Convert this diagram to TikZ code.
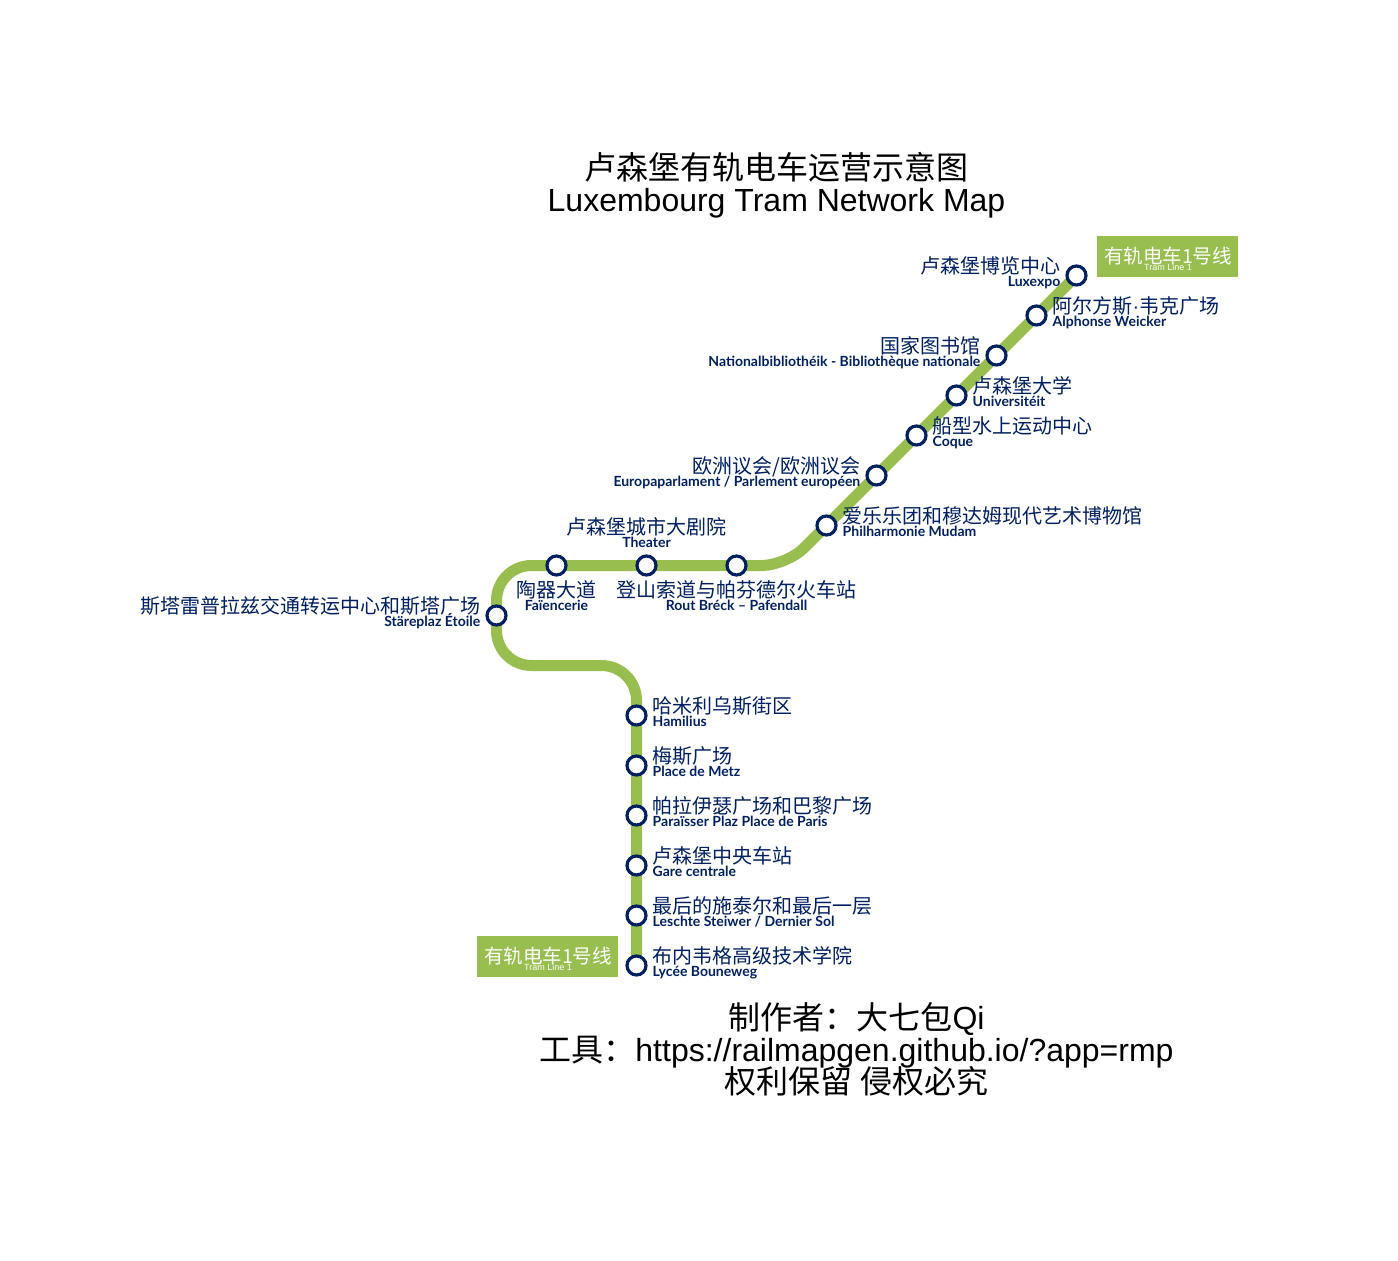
\documentclass[tikz,border=0pt]{standalone}
\usepackage{fontspec}
\setmainfont{Liberation Sans}
\newfontfamily\cjk{Noto Sans CJK SC}
\newfontfamily\lat{Lato}[BoldFont={Lato Bold}]
\definecolor{tramgreen}{HTML}{97BE4F}
\definecolor{navy}{HTML}{002060}
\tikzset{
  tramline/.style={draw=tramgreen,line width=11pt},
  stationdot/.style={circle,draw=navy,fill=white,line width=3.2pt,minimum size=19pt,inner sep=0pt},
  cjklabel/.style={inner sep=0pt,text=navy,font={\cjk\fontsize{20}{20}\selectfont},text height=16pt,text depth=4pt},
  latlabel/.style={inner sep=0pt,text=navy,font={\lat\bfseries\fontsize{14}{14}\selectfont},text height=10pt,text depth=3pt},
  linebox/.style={fill=tramgreen,minimum width=141pt,minimum height=41pt,inner sep=0pt},
  boxcjk/.style={inner sep=0pt,text=white,font={\cjk\fontsize{19.5}{20}\selectfont}},
  boxlat/.style={inner sep=0pt,text=white,font={\fontsize{9}{9}\selectfont}},
  headline/.style={inner sep=0pt,font={\fontsize{32}{32}\selectfont},text height=24pt,text depth=7pt},
}
% \stn{id}{x}{y}{label x}{anchor}{cjk y}{chinese}{latin}
\newcommand{\stn}[8]{%
  \node[stationdot] (#1) at (#2+0.5,#3+0.5) {};
  \node[cjklabel,anchor=#5] (#1cn) at (#4,#6+1.5) {#7};
  \node[latlabel,anchor=#5] (#1en) at (#4,#6+16.5) {#8};
}
\begin{document}
\begin{tikzpicture}[x=1pt,y=-1pt]
\useasboundingbox (0,0) rectangle (1398,1261);
\fill[white] (0,0) rectangle (1398,1261);
\coordinate (lineN) at (1076.5,275.5);
\coordinate (lineS) at (636.5,965.5);
\coordinate (c1) at (786.5,565.5);
\coordinate (c2) at (496.5,565.5);
\coordinate (c3) at (496.5,665.5);
\coordinate (c4) at (636.5,665.5);
\draw[tramline] (lineN) [rounded corners=25pt] -- (c1) [rounded corners=35pt] -- (c2) -- (c3) -- (c4) -- (lineS);

\node[linebox] (boxN) at (1167.5,256.5) {};
\node[boxcjk] (boxNcn) at (1168,256) {有轨电车1号线};
\node[boxlat] (boxNen) at (1168,267) {Tram Line 1};
\node[linebox] (boxS) at (547.5,956.5) {};
\node[boxcjk] (boxScn) at (548,956) {有轨电车1号线};
\node[boxlat] (boxSen) at (548,967) {Tram Line 1};

\stn{lux}{1076}{275}{1060.5}{east}{266}{卢森堡博览中心}{Luxexpo}
\stn{alp}{1036}{315}{1052.5}{west}{306}{阿尔方斯{\rmfamily ·}韦克广场}{Alphonse Weicker}
\stn{nat}{996}{355}{980.5}{east}{346}{国家图书馆}{Nationalbibliothéik - Bibliothèque nationale}
\stn{uni}{956}{395}{972.5}{west}{386}{卢森堡大学}{Universitéit}
\stn{coq}{916}{435}{932.5}{west}{426}{船型水上运动中心}{Coque}
\stn{eur}{876}{475}{860.5}{east}{466}{欧洲议会/欧洲议会}{Europaparlament / Parlement européen}
\stn{phi}{826}{525}{842.5}{west}{516}{爱乐乐团和穆达姆现代艺术博物馆}{Philharmonie Mudam}
\stn{rou}{736}{565}{736.5}{center}{590}{登山索道与帕芬德尔火车站}{Rout Bréck – Pafendall}
\stn{the}{646}{565}{646.5}{center}{527}{卢森堡城市大剧院}{Theater}
\stn{fai}{556}{565}{556.5}{center}{590}{陶器大道}{Faïencerie}
\stn{sta}{496}{615}{480.5}{east}{606}{斯塔雷普拉兹交通转运中心和斯塔广场}{Stäreplaz Étoile}
\stn{ham}{636}{715}{652.5}{west}{706}{哈米利乌斯街区}{Hamilius}
\stn{met}{636}{765}{652.5}{west}{756}{梅斯广场}{Place de Metz}
\stn{par}{636}{815}{652.5}{west}{806}{帕拉伊瑟广场和巴黎广场}{Paraïsser Plaz Place de Paris}
\stn{gar}{636}{865}{652.5}{west}{856}{卢森堡中央车站}{Gare centrale}
\stn{les}{636}{915}{652.5}{west}{906}{最后的施泰尔和最后一层}{Leschte Steiwer / Dernier Sol}
\stn{lyc}{636}{965}{652.5}{west}{956}{布内韦格高级技术学院}{Lycée Bouneweg}

\node[headline] (titlecn) at (776.5,170.5) {\cjk 卢森堡有轨电车运营示意图};
\node[headline] (titleen) at (776.5,202.5) {Luxembourg Tram Network Map};
\node[headline] (creditA) at (856.5,1020.5) {{\cjk 制作者：大七包}Qi};
\node[headline] (creditB) at (856.5,1052.5) {{\cjk 工具：}https://railmapgen.github.io/?app=rmp};
\node[headline] (creditC) at (856.5,1084.5) {\cjk 权利保留 侵权必究};
\end{tikzpicture}
\end{document}
